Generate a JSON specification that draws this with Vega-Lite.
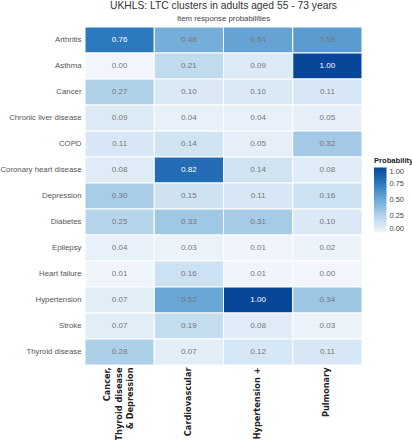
{
  "$schema": "https://vega.github.io/schema/vega-lite/v6.json",
  "autosize": "none",
  "width": 277,
  "height": 338,
  "padding": {"left": 85, "top": 27, "right": 50, "bottom": 75},
  "background": "white",
  "title": {
    "text": "UKHLS: LTC clusters in adults aged 55 - 73 years",
    "subtitle": "Item response probabilities",
    "font": "Liberation Sans",
    "fontSize": 10.3,
    "fontWeight": "normal",
    "color": "#333333",
    "subtitleFont": "Liberation Sans",
    "subtitleFontSize": 7.8,
    "subtitleColor": "#444444",
    "subtitlePadding": 3,
    "anchor": "middle",
    "offset": 4
  },
  "data": {
    "values": [
      {"condition": "Arthritis", "cluster": "Cancer, Thyroid disease & Depression", "p": 0.76},
      {"condition": "Arthritis", "cluster": "Cardiovascular", "p": 0.48},
      {"condition": "Arthritis", "cluster": "Hypertension +", "p": 0.54},
      {"condition": "Arthritis", "cluster": "Pulmonary", "p": 0.58},
      {"condition": "Asthma", "cluster": "Cancer, Thyroid disease & Depression", "p": 0.00},
      {"condition": "Asthma", "cluster": "Cardiovascular", "p": 0.21},
      {"condition": "Asthma", "cluster": "Hypertension +", "p": 0.09},
      {"condition": "Asthma", "cluster": "Pulmonary", "p": 1.00},
      {"condition": "Cancer", "cluster": "Cancer, Thyroid disease & Depression", "p": 0.27},
      {"condition": "Cancer", "cluster": "Cardiovascular", "p": 0.10},
      {"condition": "Cancer", "cluster": "Hypertension +", "p": 0.10},
      {"condition": "Cancer", "cluster": "Pulmonary", "p": 0.11},
      {"condition": "Chronic liver disease", "cluster": "Cancer, Thyroid disease & Depression", "p": 0.09},
      {"condition": "Chronic liver disease", "cluster": "Cardiovascular", "p": 0.04},
      {"condition": "Chronic liver disease", "cluster": "Hypertension +", "p": 0.04},
      {"condition": "Chronic liver disease", "cluster": "Pulmonary", "p": 0.05},
      {"condition": "COPD", "cluster": "Cancer, Thyroid disease & Depression", "p": 0.11},
      {"condition": "COPD", "cluster": "Cardiovascular", "p": 0.14},
      {"condition": "COPD", "cluster": "Hypertension +", "p": 0.05},
      {"condition": "COPD", "cluster": "Pulmonary", "p": 0.32},
      {"condition": "Coronary heart disease", "cluster": "Cancer, Thyroid disease & Depression", "p": 0.08},
      {"condition": "Coronary heart disease", "cluster": "Cardiovascular", "p": 0.82},
      {"condition": "Coronary heart disease", "cluster": "Hypertension +", "p": 0.14},
      {"condition": "Coronary heart disease", "cluster": "Pulmonary", "p": 0.08},
      {"condition": "Depression", "cluster": "Cancer, Thyroid disease & Depression", "p": 0.30},
      {"condition": "Depression", "cluster": "Cardiovascular", "p": 0.15},
      {"condition": "Depression", "cluster": "Hypertension +", "p": 0.11},
      {"condition": "Depression", "cluster": "Pulmonary", "p": 0.16},
      {"condition": "Diabetes", "cluster": "Cancer, Thyroid disease & Depression", "p": 0.25},
      {"condition": "Diabetes", "cluster": "Cardiovascular", "p": 0.33},
      {"condition": "Diabetes", "cluster": "Hypertension +", "p": 0.31},
      {"condition": "Diabetes", "cluster": "Pulmonary", "p": 0.10},
      {"condition": "Epilepsy", "cluster": "Cancer, Thyroid disease & Depression", "p": 0.04},
      {"condition": "Epilepsy", "cluster": "Cardiovascular", "p": 0.03},
      {"condition": "Epilepsy", "cluster": "Hypertension +", "p": 0.01},
      {"condition": "Epilepsy", "cluster": "Pulmonary", "p": 0.02},
      {"condition": "Heart failure", "cluster": "Cancer, Thyroid disease & Depression", "p": 0.01},
      {"condition": "Heart failure", "cluster": "Cardiovascular", "p": 0.16},
      {"condition": "Heart failure", "cluster": "Hypertension +", "p": 0.01},
      {"condition": "Heart failure", "cluster": "Pulmonary", "p": 0.00},
      {"condition": "Hypertension", "cluster": "Cancer, Thyroid disease & Depression", "p": 0.07},
      {"condition": "Hypertension", "cluster": "Cardiovascular", "p": 0.52},
      {"condition": "Hypertension", "cluster": "Hypertension +", "p": 1.00},
      {"condition": "Hypertension", "cluster": "Pulmonary", "p": 0.34},
      {"condition": "Stroke", "cluster": "Cancer, Thyroid disease & Depression", "p": 0.07},
      {"condition": "Stroke", "cluster": "Cardiovascular", "p": 0.19},
      {"condition": "Stroke", "cluster": "Hypertension +", "p": 0.08},
      {"condition": "Stroke", "cluster": "Pulmonary", "p": 0.03},
      {"condition": "Thyroid disease", "cluster": "Cancer, Thyroid disease & Depression", "p": 0.28},
      {"condition": "Thyroid disease", "cluster": "Cardiovascular", "p": 0.07},
      {"condition": "Thyroid disease", "cluster": "Hypertension +", "p": 0.12},
      {"condition": "Thyroid disease", "cluster": "Pulmonary", "p": 0.11}
    ]
  },
  "encoding": {
    "x": {
      "field": "cluster",
      "type": "nominal",
      "sort": null,
      "title": null,
      "axis": {
        "orient": "bottom",
        "labelAngle": -90,
        "labelAlign": "right",
        "labelBaseline": "middle",
        "labelFont": "DejaVu Sans",
        "labelFontWeight": "bold",
        "labelFontSize": 8.2,
        "labelColor": "#222222",
        "labelPadding": 2,
        "labelLineHeight": 11.5,
        "labelLimit": 200,
        "labelOffset": {"condition": {"test": "datum.value == 'Cancer, Thyroid disease & Depression'", "value": -11.5}, "value": 0},
        "ticks": false,
        "domain": false,
        "labelExpr": "datum.value == 'Cancer, Thyroid disease & Depression' ? ['Cancer,', 'Thyroid disease', '& Depression'] : datum.label"
      }
    },
    "y": {
      "field": "condition",
      "type": "nominal",
      "sort": null,
      "title": null,
      "axis": {
        "labelFont": "Liberation Sans",
        "labelFontSize": 7.8,
        "labelColor": "#555555",
        "labelPadding": 4,
        "ticks": false,
        "domain": false
      }
    }
  },
  "layer": [
    {
      "mark": {"type": "rect", "stroke": "white", "strokeWidth": 1},
      "encoding": {
        "color": {
          "field": "p",
          "type": "quantitative",
          "title": "Probability",
          "scale": {
            "domain": [0, 0.25, 0.5, 0.75, 1],
            "range": ["#f2f6fc", "#b6d5eb", "#6eabd7", "#2f7bbf", "#08469a"],
            "interpolate": "rgb"
          },
          "legend": {
            "orient": "none",
            "legendX": 289,
            "legendY": 130,
            "gradientLength": 65,
            "gradientThickness": 12.5,
            "values": [0, 0.25, 0.5, 0.75, 1],
            "format": ".2f",
            "titleFont": "Liberation Sans",
            "titleFontSize": 7.6,
            "titleFontWeight": "bold",
            "titleColor": "#222222",
            "titlePadding": 3,
            "labelFont": "Liberation Sans",
            "labelFontSize": 7.4,
            "labelColor": "#444444",
            "labelOffset": 3
          }
        }
      }
    },
    {
      "mark": {"type": "text", "font": "Liberation Sans", "fontSize": 8},
      "encoding": {
        "text": {"field": "p", "type": "quantitative", "format": ".2f"},
        "color": {
          "condition": {"test": "datum.p > 0.6", "value": "white"},
          "value": "#777777"
        }
      }
    }
  ],
  "config": {
    "view": {"stroke": null},
    "scale": {"bandPaddingInner": 0}
  }
}
